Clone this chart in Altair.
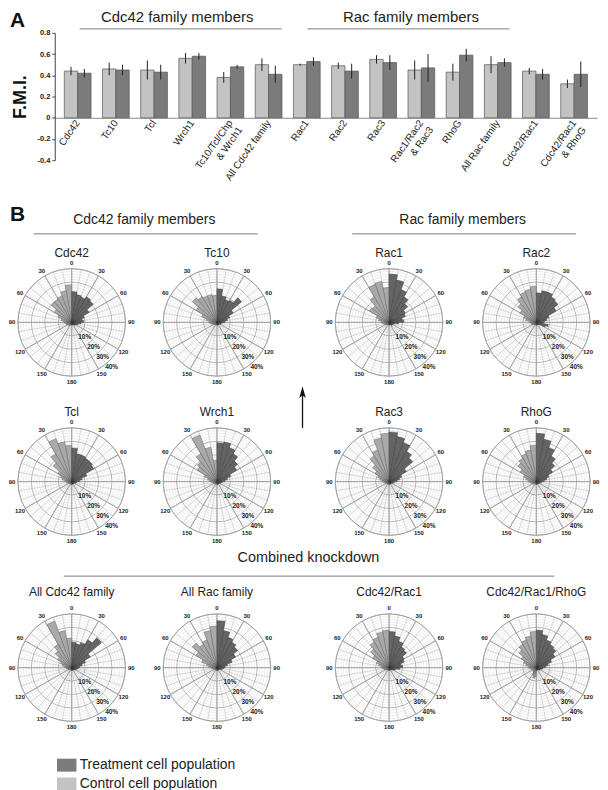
import math
import altair as alt
import pandas as pd

FONT = "Liberation Sans"
CTRL_NAME = "Control cell population"
TREAT_NAME = "Treatment cell population"

# ---------------- Panel A data ----------------
FMI_CATEGORIES = ["Cdc42", "Tc10", "Tcl", "Wrch1", "Tc10/Tcl/Chp|& Wrch1", "All Cdc42 family",
                  "Rac1", "Rac2", "Rac3", "Rac1/Rac2|& Rac3", "RhoG", "All Rac family",
                  "Cdc42/Rac1", "Cdc42/Rac1|& RhoG"]
FMI_CTRL = [0.44, 0.46, 0.45, 0.56, 0.38, 0.50, 0.50, 0.49, 0.55, 0.45, 0.43, 0.50, 0.44, 0.32]
FMI_CTRL_ERR = [0.04, 0.06, 0.09, 0.05, 0.05, 0.06, 0.01, 0.03, 0.04, 0.09, 0.08, 0.08, 0.03, 0.04]
FMI_TREAT = [0.42, 0.45, 0.43, 0.58, 0.48, 0.41, 0.53, 0.44, 0.52, 0.47, 0.59, 0.52, 0.41, 0.41]
FMI_TREAT_ERR = [0.04, 0.05, 0.07, 0.03, 0.02, 0.08, 0.04, 0.07, 0.07, 0.13, 0.06, 0.04, 0.05, 0.12]
FMI_TICKS = [-0.4, -0.2, 0, 0.2, 0.4, 0.6, 0.8]

# ---------------- Panel B data (percent of cells per 10-degree bin, 0..180) ----------------
BIN_STARTS = [0, 10, 20, 30, 40, 50, 60, 70, 80, 90, 100, 110, 120, 130, 140, 150, 160, 170]
BIN_W = 10
ANGLE_TICKS = [0, 30, 60, 90, 120, 150, 180]
PCT_TICKS = [10, 20, 30, 40]
MINOR_RINGS = [2, 4, 6, 8, 12, 14, 16, 18, 22, 24, 26, 28, 32, 34, 36, 38]
SPOKES_FINE = list(range(0, 360, 10))
SPOKES_MAJOR = list(range(0, 360, 30))

CDC42_CTRL = [28, 24, 21, 20, 20, 15, 11, 8, 6, 5, 4, 4, 3, 3, 3, 2, 2, 2]
CDC42_TREAT = [23, 21, 20, 22, 21, 15, 10, 8, 9, 7, 5, 4, 3, 3, 2, 2, 2, 2]
TC10_CTRL = [20, 21, 21, 22, 24, 18, 12, 8, 6, 5, 4, 3, 3, 2, 2, 2, 2, 2]
TC10_TREAT = [25, 20, 18, 19, 24, 14, 10, 8, 6, 4, 3, 3, 2, 2, 2, 2, 2, 2]
TCL_CTRL = [27, 30, 34, 24, 18, 12, 9, 7, 5, 4, 3, 3, 2, 2, 2, 2, 2, 2]
TCL_TREAT = [25, 21, 21, 20, 20, 19, 12, 8, 6, 4, 3, 3, 2, 2, 2, 2, 2, 2]
WRCH1_CTRL = [16, 26, 37, 24, 19, 17, 10, 7, 5, 4, 3, 3, 2, 2, 2, 2, 2, 2]
WRCH1_TREAT = [29, 30, 27, 24, 20, 17, 11, 8, 6, 4, 3, 3, 2, 2, 2, 2, 2, 2]
RAC1_CTRL = [26, 31, 30, 22, 16, 17, 10, 8, 6, 5, 4, 3, 3, 2, 2, 2, 2, 2]
RAC1_TREAT = [36, 32, 26, 22, 18, 14, 13, 10, 11, 7, 4, 3, 3, 3, 2, 2, 2, 2]
RAC2_CTRL = [27, 25, 24, 22, 18, 14, 10, 8, 5, 4, 4, 3, 3, 2, 2, 2, 2, 2]
RAC2_TREAT = [22, 24, 24, 22, 21, 17, 10, 8, 6, 5, 9, 7, 3, 2, 2, 2, 2, 2]
RAC3_CTRL = [36, 33, 25, 22, 16, 12, 9, 7, 5, 4, 3, 3, 2, 2, 2, 2, 2, 2]
RAC3_TREAT = [37, 34, 31, 26, 23, 15, 10, 8, 6, 4, 3, 3, 2, 2, 2, 2, 2, 2]
RHOG_CTRL = [27, 24, 22, 20, 18, 14, 10, 8, 6, 5, 4, 3, 3, 2, 2, 2, 2, 2]
RHOG_TREAT = [36, 32, 27, 22, 18, 14, 10, 8, 6, 4, 3, 3, 2, 2, 2, 2, 2, 2]
ALLCDC42_CTRL = [22, 28, 37, 20, 16, 12, 9, 7, 5, 4, 3, 3, 2, 2, 2, 2, 2, 2]
ALLCDC42_TREAT = [19, 18, 20, 24, 29, 16, 11, 8, 6, 5, 4, 3, 3, 2, 2, 2, 2, 2]
ALLRAC_CTRL = [31, 28, 22, 20, 24, 18, 12, 8, 6, 4, 3, 3, 2, 2, 2, 2, 2, 2]
ALLRAC_TREAT = [35, 28, 24, 22, 20, 16, 12, 8, 6, 5, 4, 3, 2, 2, 2, 2, 2, 2]
CDC42RAC1_CTRL = [28, 27, 24, 22, 18, 14, 10, 8, 6, 5, 4, 3, 3, 2, 2, 2, 2, 2]
CDC42RAC1_TREAT = [27, 24, 21, 18, 17, 13, 12, 9, 10, 8, 5, 4, 3, 2, 2, 2, 2, 2]
CDC42RAC1RHOG_CTRL = [27, 24, 22, 20, 17, 13, 10, 8, 6, 5, 4, 3, 3, 3, 4, 6, 8, 7]
CDC42RAC1RHOG_TREAT = [28, 25, 22, 20, 19, 16, 12, 9, 7, 5, 4, 3, 3, 2, 2, 2, 2, 2]

ONE = alt.Data(values=[{"k": 1}])


def text_at(txt, x, y, size, weight="normal", align="center", baseline="middle", color="#222"):
    return alt.Chart(ONE).mark_text(fontSize=size, fontWeight=weight, font=FONT, align=align,
                                    baseline=baseline, color=color).encode(
        x=alt.value(x), y=alt.value(y), text=alt.value(txt))


def hline(x1, x2, y, color="#7a7a7a", w=1):
    return alt.Chart(ONE).mark_rule(color=color, strokeWidth=w).encode(
        x=alt.value(x1), x2=alt.value(x2), y=alt.value(y))


def bound_box(x, y1, y2):
    # invisible vertical rule fixing the vertical extent used for layout
    return alt.Chart(ONE).mark_rule(opacity=0, strokeWidth=1).encode(
        x=alt.value(x), y=alt.value(y1), y2=alt.value(y2))


# ---------------- Panel A ----------------
rowsA = []
for c, v, e, tv, te in zip(FMI_CATEGORIES, FMI_CTRL, FMI_CTRL_ERR, FMI_TREAT, FMI_TREAT_ERR):
    rowsA.append({"cat": c, "series": CTRL_NAME, "v": v, "lo": v - e, "hi": v + e})
    rowsA.append({"cat": c, "series": TREAT_NAME, "v": tv, "lo": tv - te, "hi": tv + te})
dfA = pd.DataFrame(rowsA)

PA_H = 128
X_SCALE = alt.Scale(range=[45, 590], paddingInner=0.3, paddingOuter=0.25)
Y_SCALE = alt.Scale(domain=[-0.4, 0.8], nice=False, zero=False)
Y_AXIS = alt.Axis(title="F.M.I.", values=FMI_TICKS,
                  labelExpr="toString(round(datum.value*10)/10)",
                  labelFontSize=7.5, labelFontWeight="bold", labelFont=FONT, labelColor="#222",
                  labelPadding=2, tickSize=3, tickColor="#444", domainColor="#444", grid=False,
                  offset=-45, titleFont=FONT, titleFontSize=18, titleFontWeight="bold",
                  titleColor="#111", titlePadding=7)

xA = alt.X("cat:N", sort=FMI_CATEGORIES, scale=X_SCALE,
           axis=alt.Axis(title=None, labelAngle=-55, labelAlign="right", labelBaseline="middle",
                         labelFontSize=10, labelFont=FONT, labelColor="#222", labelPadding=3,
                         ticks=False, domainColor="#8a8a8a", domainWidth=1.2,
                         offset=-(PA_H * 0.4 / 1.2),
                         labelExpr="split(datum.label, '|')"))
xoA = alt.XOffset("series:N", sort=[CTRL_NAME, TREAT_NAME], scale=alt.Scale(paddingInner=0))
colorA = alt.Color("series:N",
                   scale=alt.Scale(domain=[TREAT_NAME, CTRL_NAME], range=["#7b7b7b", "#c3c3c3"]),
                   legend=alt.Legend(title=None, orient="none", legendX=50, legendY=729,
                                     symbolType="M-1.5,-1H1.5V1H-1.5Z", symbolSize=170,
                                     symbolStrokeWidth=0, symbolOpacity=1, labelFont=FONT,
                                     labelFontSize=14, labelColor="#222", rowPadding=5,
                                     labelOffset=6, labelLimit=300))

bars = alt.Chart(dfA).mark_bar(stroke="#555", strokeWidth=0.7).encode(
    x=xA, xOffset=xoA, y=alt.Y("v:Q", scale=Y_SCALE, axis=Y_AXIS), color=colorA)
errs = alt.Chart(dfA).mark_rule(color="#222", strokeWidth=1).encode(
    x=xA, xOffset=xoA, y=alt.Y("lo:Q", scale=Y_SCALE, axis=Y_AXIS), y2="hi:Q")

panelA = alt.layer(
    bars, errs,
    text_at("A", 0, -23, 21, "bold", "left", "top", "#111"),
    text_at("Cdc42 family members", 168, -23, 15, baseline="top"),
    text_at("Rac family members", 403, -23, 15, baseline="top"),
    hline(70, 273, -4), hline(299, 502, -4),
    bound_box(300, -23, 172),
).properties(width=590, height=PA_H)

# ---------------- Panel B ----------------
TH = alt.Scale(domain=[0, 360], range=[0, 2 * math.pi])
RS = alt.Scale(type="linear", domain=[0, 40], range=[0, 54], zero=True)
RING_MAX = PCT_TICKS[-1]
COL_W = [124, 168, 178, 118]
ROSE_H = 124


def theta(f):
    return alt.Theta(f, type="quantitative", scale=TH, stack=False)


def radius(f):
    return alt.Radius(f, type="quantitative", scale=RS, stack=False)


def rose(name, ctrl, treat, w, top=-24, bottom=126, title_y=-8, extra=()):
    sect = []
    for a, c, t in zip(BIN_STARTS, ctrl, treat):
        sect.append({"grp": "c", "t1": 360 - a - BIN_W, "t2": 360 - a, "r": c})
        sect.append({"grp": "t", "t1": a, "t2": a + BIN_W, "r": t})
    sect_df = pd.DataFrame(sect)

    fine = pd.DataFrame({"t1": SPOKES_FINE, "t2": [s + 10 for s in SPOKES_FINE], "r": RING_MAX})
    major = pd.DataFrame({"t1": SPOKES_MAJOR, "t2": [s + 30 for s in SPOKES_MAJOR], "r": RING_MAX})
    minor_r = pd.DataFrame({"r": MINOR_RINGS})
    major_r = pd.DataFrame({"r": PCT_TICKS})

    labs = []
    for a in ANGLE_TICKS:
        labs.append({"t": a, "lab": str(a)})
        if 0 < a < 180:
            labs.append({"t": 360 - a, "lab": str(a)})
    labs_df = pd.DataFrame(labs)
    pct_df = pd.DataFrame({"p": PCT_TICKS, "lab": [f"{p}%" for p in PCT_TICKS]})

    layers = [
        alt.Chart(fine).mark_arc(filled=False, color="#d0d0d0", strokeWidth=0.5).encode(
            theta=theta("t1"), theta2="t2:Q", radius=radius("r")),
        alt.Chart(minor_r).mark_arc(filled=False, color="#d4d4d4", strokeWidth=0.45,
                                    theta=0, theta2=2 * math.pi).encode(radius=radius("r")),
        alt.Chart(major_r).mark_arc(filled=False, color="#959595", strokeWidth=0.7,
                                    theta=0, theta2=2 * math.pi).encode(radius=radius("r")),
        alt.Chart(major).mark_arc(filled=False, color="#9a9a9a", strokeWidth=0.6).encode(
            theta=theta("t1"), theta2="t2:Q", radius=radius("r")),
        alt.Chart(sect_df).transform_filter("datum.grp == 'c'").mark_arc(
            fill="#a9a9a9", stroke="#555", strokeWidth=0.4).encode(
            theta=theta("t1"), theta2="t2:Q", radius=radius("r")),
        alt.Chart(sect_df).transform_filter("datum.grp == 't'").mark_arc(
            fill="#646464", stroke="#333", strokeWidth=0.4).encode(
            theta=theta("t1"), theta2="t2:Q", radius=radius("r")),
        alt.Chart(labs_df).mark_text(fontSize=6, fontWeight="bold", font=FONT, color="#222").encode(
            theta=theta("t"), radius=alt.value(60), text="lab:N"),
        alt.Chart(pct_df).mark_text(fontSize=6.5, fontWeight="bold", font=FONT, color="#222",
                                    radiusOffset=6).encode(
            theta=alt.value(math.radians(138)), radius=radius("p"), text="lab:N"),
        text_at(name, w / 2, title_y, 12),
        bound_box(w / 2, top, bottom),
    ]
    layers.extend(extra)
    return alt.layer(*layers).properties(width=w, height=ROSE_H)


def arrow_layers():
    return (
        alt.Chart(ONE).mark_rule(color="#111", strokeWidth=1.3).encode(
            x=alt.value(2), y=alt.value(-26), y2=alt.value(8)),
        alt.Chart(ONE).mark_point(shape="M0,-1L0.55,1L0,0.55L-0.55,1Z", filled=True, color="#111",
                                  size=140, opacity=1).encode(x=alt.value(2), y=alt.value(-28)),
    )


def row(charts):
    return alt.hconcat(*charts, spacing=0, bounds="flush")


row1 = row([rose("Cdc42", CDC42_CTRL, CDC42_TREAT, COL_W[0]),
            rose("Tc10", TC10_CTRL, TC10_TREAT, COL_W[1]),
            rose("Rac1", RAC1_CTRL, RAC1_TREAT, COL_W[2]),
            rose("Rac2", RAC2_CTRL, RAC2_TREAT, COL_W[3])])
row2 = row([rose("Tcl", TCL_CTRL, TCL_TREAT, COL_W[0], top=-34),
            rose("Wrch1", WRCH1_CTRL, WRCH1_TREAT, COL_W[1], top=-34),
            rose("Rac3", RAC3_CTRL, RAC3_TREAT, COL_W[2], top=-34, extra=arrow_layers()),
            rose("RhoG", RHOG_CTRL, RHOG_TREAT, COL_W[3], top=-34)])
row3 = row([rose("All Cdc42 family", ALLCDC42_CTRL, ALLCDC42_TREAT, COL_W[0], title_y=-14),
            rose("All Rac family", ALLRAC_CTRL, ALLRAC_TREAT, COL_W[1], title_y=-14),
            rose("Cdc42/Rac1", CDC42RAC1_CTRL, CDC42RAC1_TREAT, COL_W[2], title_y=-14),
            rose("Cdc42/Rac1/RhoG", CDC42RAC1RHOG_CTRL, CDC42RAC1RHOG_TREAT, COL_W[3], title_y=-14)])

headerB = alt.layer(
    text_at("B", 0, 10, 21, "bold", "left", "middle", "#111"),
    text_at("Cdc42 family members", 135, 15, 14),
    text_at("Rac family members", 455, 15, 14),
    hline(24, 249, 29), hline(344, 569, 29),
    bound_box(300, 0, 32),
).properties(width=590, height=32)

headerC = alt.layer(
    text_at("Combined knockdown", 300, 13, 14.5),
    hline(54, 547, 31),
    bound_box(300, 0, 37),
).properties(width=590, height=37)

chart = alt.vconcat(panelA, headerB, row1, row2, headerC, row3, spacing=0).properties(
    padding=0).configure_view(strokeWidth=0)

chart.save("out.html", embed_options={"renderer": "svg", "actions": False})
